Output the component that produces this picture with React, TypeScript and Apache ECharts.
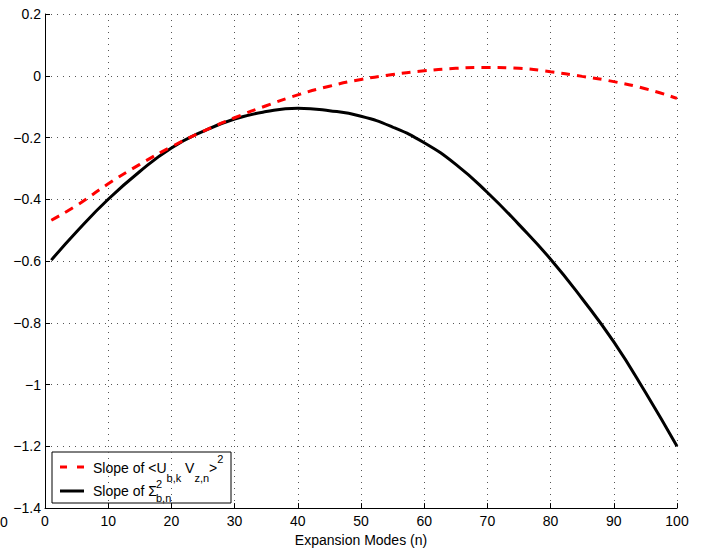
import React, { useEffect, useRef } from "react";
import * as echarts from "echarts";

const modes = [1, 5, 10, 15, 20, 25, 30, 35, 40, 45, 50, 55, 60, 65, 70, 75, 80, 85, 90, 95, 100];
const slopeUV = [-0.468, -0.42, -0.35, -0.287, -0.23, -0.18, -0.136, -0.097, -0.062, -0.034, -0.012, 0.004, 0.016, 0.024, 0.027, 0.024, 0.013, -0.002, -0.019, -0.042, -0.073];
const slopeSigma = [-0.597, -0.505, -0.4, -0.31, -0.234, -0.18, -0.14, -0.116, -0.105, -0.113, -0.131, -0.166, -0.217, -0.287, -0.378, -0.482, -0.594, -0.722, -0.862, -1.025, -1.2];
const xTicks = { min: 0, max: 100, step: 10 };
const yTicks = { min: -1.4, max: 0.2, step: 0.2 };

const FONT = "'Liberation Sans', Arial, Helvetica, sans-serif";

export default function App() {
  const ref = useRef<HTMLDivElement>(null);
  useEffect(() => {
    if (!ref.current) return;
    const chart = echarts.init(ref.current, null, { renderer: "svg" });
    const fmt = (v: number) => {
      const r = Math.round(v * 10) / 10;
      if (r === 0) return "0";
      return String(r).replace("-", "\u2212");
    };
    const gridLine = { show: true, lineStyle: { color: "#555", width: 1, type: [1, 5] as any } };
    const legendX = 52, legendY = 452, legendW = 179, legendH = 51;
    chart.setOption({
      animation: false,
      backgroundColor: "#fff",
      textStyle: { fontFamily: FONT },
      grid: { left: 45, right: 25, top: 14, bottom: 41, containLabel: false },
      xAxis: {
        type: "value",
        min: xTicks.min,
        max: xTicks.max,
        interval: xTicks.step,
        name: "Expansion Modes (n)",
        nameLocation: "middle",
        nameGap: 21,
        nameTextStyle: { fontSize: 14, color: "#000", fontFamily: FONT },
        axisLine: { show: true, onZero: false, lineStyle: { color: "#000", width: 1 } },
        axisTick: { show: true, inside: true, length: 5, lineStyle: { color: "#000" } },
        axisLabel: { color: "#000", fontSize: 14, margin: 6, fontFamily: FONT, showMinLabel: true, showMaxLabel: true },
        splitLine: gridLine,
      },
      yAxis: {
        type: "value",
        min: yTicks.min,
        max: yTicks.max,
        interval: yTicks.step,
        axisLine: { show: true, onZero: false, lineStyle: { color: "#000", width: 1 } },
        axisTick: { show: true, inside: true, length: 5, lineStyle: { color: "#000" } },
        axisLabel: { color: "#000", fontSize: 14, margin: 4, fontFamily: FONT, formatter: fmt, showMinLabel: true, showMaxLabel: true },
        splitLine: gridLine,
      },
      series: [
        {
          name: "Slope of <U b,k V z,n>^2",
          type: "line",
          data: modes.map((m, i) => [m, slopeUV[i]]),
          smooth: true,
          showSymbol: false,
          symbol: "none",
          lineStyle: { color: "#ff0000", width: 3, type: [9, 7] as any },
          z: 3,
        },
        {
          name: "Slope of Sigma^2 b,n",
          type: "line",
          data: modes.map((m, i) => [m, slopeSigma[i]]),
          smooth: true,
          showSymbol: false,
          symbol: "none",
          lineStyle: { color: "#000", width: 3 },
          z: 2,
        },
      ],
      graphic: [
        {
          type: "text",
          left: 0,
          top: 515,
          style: { text: "0", fontSize: 14, fill: "#000", font: `14px ${FONT}` },
        },
        {
          type: "group",
          z: 100,
          children: [
            {
              type: "rect",
              shape: { x: legendX, y: legendY, width: legendW, height: legendH },
              style: { fill: "#fff", stroke: "#000", lineWidth: 1 },
            },
            {
              type: "line",
              shape: { x1: 60, y1: 467, x2: 67, y2: 467 },
              style: { stroke: "#ff0000", lineWidth: 3 },
            },
            {
              type: "line",
              shape: { x1: 77, y1: 467, x2: 84, y2: 467 },
              style: { stroke: "#ff0000", lineWidth: 3 },
            },
            {
              type: "line",
              shape: { x1: 60, y1: 491, x2: 84, y2: 491 },
              style: { stroke: "#000", lineWidth: 3 },
            },
            {
              type: "text",
              x: 93,
              y: 468,
              style: {
                text: "{n|Slope of <U}{sub|b,k}{n| V}{sub|z,n}{n|>}{sup|2}",
                verticalAlign: "middle",
                align: "left",
                fill: "#000",
                rich: {
                  n: { fontSize: 14, lineHeight: 30, fontFamily: FONT, fill: "#000" },
                  sub: { fontSize: 11, lineHeight: 12, verticalAlign: "bottom", fontFamily: FONT, fill: "#000" },
                  sup: { fontSize: 11, lineHeight: 18, verticalAlign: "top", fontFamily: FONT, fill: "#000" },
                },
              },
            },
            {
              type: "text",
              x: 93,
              y: 491,
              style: {
                text: "Slope of \u03a3",
                verticalAlign: "middle",
                align: "left",
                fill: "#000",
                font: `14px ${FONT}`,
              },
            },
            {
              type: "text",
              x: 156,
              y: 484,
              style: { text: "2", verticalAlign: "middle", align: "left", fill: "#000", font: `11px ${FONT}` },
            },
            {
              type: "text",
              x: 156,
              y: 498,
              style: { text: "b,n", verticalAlign: "middle", align: "left", fill: "#000", font: `11px ${FONT}` },
            },
          ],
        },
      ],
    });
    return () => chart.dispose();
  }, []);
  return <div ref={ref} style={{ width: 702, height: 552, position: "absolute", left: 0, top: 0 }} />;
}
